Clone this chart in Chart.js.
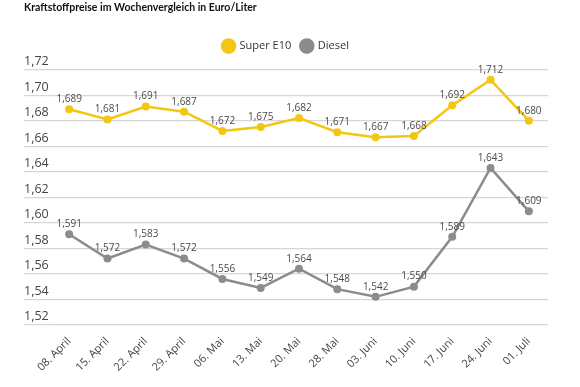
<!DOCTYPE html>
<html>
<head>
<meta charset="UTF-8">
<title>Kraftstoffpreise</title>
<script src="https://cdn.jsdelivr.net/npm/chart.js@4.4.1/dist/chart.umd.min.js"></script>
<style>
  html, body { margin: 0; padding: 0; background: #fff; }
  #wrap { width: 580px; height: 387px; }
</style>
</head>
<body>
<div id="wrap"><canvas id="chart" width="580" height="387"></canvas></div>
<script>
var weeks = ['08. April', '15. April', '22. April', '29. April', '06. Mai', '13. Mai', '20. Mai',
             '28. Mai', '03. Juni', '10. Juni', '17. Juni', '24. Juni', '01. Juli'];
var superE10 = [1.689, 1.681, 1.691, 1.687, 1.672, 1.675, 1.682, 1.671, 1.667, 1.668, 1.692, 1.712, 1.680];
var diesel = [1.591, 1.572, 1.583, 1.572, 1.556, 1.549, 1.564, 1.548, 1.542, 1.550, 1.589, 1.643, 1.609];

var yellow = '#f3c612';
var grey = '#8c8c8c';
var font = "'Open Sans', 'Noto Sans', sans-serif";

// Werte über den Punkten
var valueLabels = {
    id: 'valueLabels',
    afterDatasetsDraw: function (chart) {
        var ctx = chart.ctx;
        ctx.save();
        ctx.font = '10px ' + font;
        ctx.fillStyle = '#4a4a4a';
        ctx.textAlign = 'center';
        ctx.textBaseline = 'bottom';
        chart.data.datasets.forEach(function (ds, i) {
            chart.getDatasetMeta(i).data.forEach(function (pt, j) {
                ctx.fillText(ds.data[j].toFixed(3).replace('.', ','), pt.x, pt.y - 5);
            });
        });
        ctx.restore();
    }
};

// etwas mehr Luft unter der Legende
var legendGap = {
    id: 'legendGap',
    beforeInit: function (chart) {
        var fit = chart.legend.fit;
        chart.legend.fit = function () {
            fit.call(this);
            this.height += 8;
        };
    }
};

new Chart(document.getElementById('chart'), {
    type: 'line',
    data: {
        labels: weeks,
        datasets: [{
            label: 'Super E10',
            data: superE10,
            borderColor: yellow,
            backgroundColor: yellow,
            borderWidth: 2.5,
            pointRadius: 4,
            pointBorderWidth: 0,
            tension: 0
        }, {
            label: 'Diesel',
            data: diesel,
            borderColor: grey,
            backgroundColor: grey,
            borderWidth: 2.5,
            pointRadius: 4,
            pointBorderWidth: 0,
            tension: 0
        }]
    },
    options: {
        responsive: false,
        animation: false,
        layout: { padding: { left: 24, right: 32, top: 0, bottom: 11 } },
        plugins: {
            title: {
                display: true,
                text: 'Kraftstoffpreise im Wochenvergleich in Euro/Liter',
                align: 'start',
                color: '#111',
                font: { family: 'Lato, sans-serif', size: 10.5, weight: 'bold' },
                padding: { top: 1, bottom: 17 }
            },
            legend: {
                labels: {
                    usePointStyle: true,
                    pointStyle: 'circle',
                    boxWidth: 11,
                    boxHeight: 11,
                    color: '#333',
                    font: { family: font, size: 11 },
                    padding: 10
                }
            },
            tooltip: { enabled: false }
        },
        scales: {
            x: {
                offset: true,
                grid: { display: false },
                border: { display: false },
                ticks: {
                    color: '#444',
                    font: { family: font, size: 11 },
                    minRotation: 45,
                    maxRotation: 45,
                    padding: 2
                }
            },
            y: {
                min: 1.52,
                max: 1.72,
                border: { display: false },
                grid: { color: '#d6d6d6', lineWidth: 1.2, drawTicks: true, tickLength: 26, tickColor: '#d6d6d6' },
                afterFit: function (scale) { scale.width = 26; },
                ticks: {
                    stepSize: 0.02,
                    crossAlign: 'far',
                    labelOffset: -8,
                    color: '#444',
                    font: { family: font, size: 12.5 },
                    callback: function (v) { return v.toFixed(2).replace('.', ','); }
                }
            }
        }
    },
    plugins: [valueLabels, legendGap]
});
</script>
</body>
</html>
